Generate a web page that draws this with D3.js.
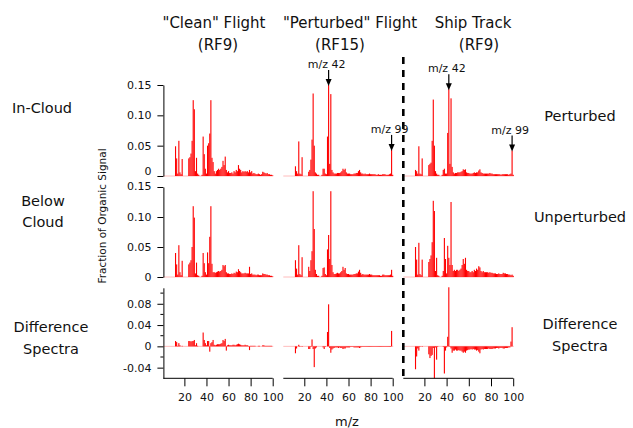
<!DOCTYPE html>
<html><head><meta charset="utf-8">
<script src="https://cdn.jsdelivr.net/npm/d3@7"></script>
<style>body{margin:0;background:#fff}svg{display:block}</style>
</head><body>
<svg id="c" width="633" height="428"></svg>
<script>
// m/z values start at 12 and run to 100
const mzStart = 12;

// "Clean" flight (RF9)
const cleanInCloud = [
 .049,.029,.004,.058,.006,.003,.028,0,0,0,
 0,0,.029,.031,.037,.058,.125,.110,.008,.030,
 .004,.002,0,0,.002,.065,.036,.012,.004,.050,
 .054,.070,.125,.030,.023,.008,.004,.008,.010,.012,
 .010,.012,.015,.025,.018,.032,.010,.006,.008,.005,
 .005,.006,.004,.008,.006,.010,.008,.018,.012,.010,
 .006,.008,.007,.008,.007,.008,.006,.010,.006,.008,
 .004,.005,.004,.003,.003,.004,.003,.002,.003,.007,
 .006,.005,.004,.005,.003,.003,.002,.002,.001];
const cleanBelowCloud = [
 .040,.021,.004,.053,.008,.003,.027,0,0,0,
 0,0,.021,.024,.028,.050,.118,.099,.006,.024,
 .003,.002,0,0,.002,.040,.023,.008,.004,.041,
 .023,.067,.118,.022,.008,.008,.007,.008,.009,.010,
 .009,.010,.012,.020,.018,.020,.008,.006,.006,.005,
 .005,.006,.005,.007,.006,.009,.008,.013,.010,.008,
 .006,.006,.006,.007,.006,.006,.006,.017,.005,.006,
 .004,.004,.004,.003,.004,.004,.003,.003,.003,.006,
 .005,.005,.004,.004,.003,.003,.002,.002,.001];
const cleanDiff = [
 .010,.008,.001,.006,.002,0,.001,0,0,0,
 0,0,.010,.010,.009,.010,.010,.012,.002,.006,
 .001,0,0,0,0,.026,.012,.006,.002,.010,
 .010,-.010,.006,.008,.012,.003,.002,.003,.004,.004,
 .004,.005,.006,.012,.010,.014,-.008,.002,.003,.002,
 .002,.002,.003,.003,.002,.003,.004,.005,.004,.003,
 .002,.002,.002,.003,.002,.002,.001,-.007,.001,.001,
 .001,.001,.001,0,0,.001,.001,0,0,.002,
 .002,.001,.001,.001,.001,.001,.001,.001,0];

// "Perturbed" flight (RF15)
const pertInCloud = [
 .016,.008,.004,.057,.004,.003,.031,0,0,0,
 0,0,.007,.010,.027,.060,.136,.050,.006,.004,
 .002,.002,0,0,.002,.012,.012,.004,.003,.065,
 .150,.020,.135,.010,.006,.004,.004,.004,.005,.005,
 .005,.006,.008,.012,.010,.012,.006,.004,.004,.004,
 .003,.003,.003,.004,.004,.005,.005,.008,.010,.006,
 .004,.004,.003,.004,.003,.003,.003,.004,.003,.003,
 .003,.003,.003,.002,.002,.003,.002,.002,.002,.003,
 .003,.003,.002,.002,.002,.003,.004,.043,.002];
const pertBelowCloud = [
 .028,.014,.004,.053,.005,.003,.033,0,0,0,
 0,0,.017,.010,.028,.043,.143,.080,.012,.005,
 .002,.002,0,0,.002,.015,.016,.005,.003,.046,
 .070,.030,.143,.020,.008,.005,.005,.006,.007,.006,
 .006,.008,.010,.017,.012,.015,.006,.005,.005,.004,
 .004,.004,.004,.005,.005,.006,.006,.009,.012,.007,
 .004,.005,.004,.004,.004,.004,.004,.005,.004,.004,
 .003,.003,.003,.003,.003,.003,.003,.002,.002,.004,
 .004,.003,.003,.003,.003,.003,.004,.012,.002];
const pertDiff = [
 -.013,-.004,0,.003,-.001,0,-.001,0,0,0,
 0,0,-.005,-.005,-.001,.013,-.005,-.039,-.004,-.002,
 0,0,0,0,0,-.002,-.005,-.001,0,.027,
 .079,-.003,-.012,-.006,-.004,-.003,-.002,-.002,-.002,-.003,
 -.002,-.003,-.003,-.005,-.004,-.004,-.002,-.002,-.002,-.002,
 -.001,-.001,-.001,-.002,-.002,-.002,-.002,-.002,-.003,-.002,
 -.001,-.001,-.001,-.001,-.001,-.001,-.001,-.001,-.001,-.001,
 -.001,-.001,-.001,-.001,-.001,-.001,-.001,-.001,-.001,-.001,
 -.001,-.001,-.001,-.001,-.001,-.001,-.001,.029,0];

// Ship track (RF9)
const shipPerturbed = [
 .010,.008,.004,.049,.004,.003,.029,0,0,0,
 0,0,.018,.020,.022,.058,.126,.050,.008,.004,
 .002,.002,0,0,.002,.010,.012,.004,.004,.071,
 .143,.020,.128,.015,.006,.004,.005,.005,.006,.006,
 .006,.007,.008,.011,.010,.011,.006,.005,.005,.004,
 .004,.004,.005,.006,.005,.006,.006,.009,.011,.006,
 .005,.004,.004,.004,.004,.004,.004,.005,.004,.004,
 .003,.003,.003,.003,.003,.003,.003,.002,.003,.003,
 .003,.003,.003,.003,.002,.003,.004,.042,.002];
const shipUnperturbed = [
 .050,.029,.004,.057,.005,.003,.029,0,0,0,
 0,0,.025,.030,.036,.058,.127,.110,.010,.032,
 .003,.002,0,0,.002,.010,.065,.030,.006,.052,
 .032,.020,.125,.020,.010,.012,.010,.012,.012,.010,
 .012,.014,.020,.030,.022,.032,.012,.010,.010,.008,
 .008,.010,.008,.012,.010,.014,.012,.018,.016,.010,
 .008,.010,.008,.008,.008,.008,.007,.008,.007,.007,
 .006,.006,.006,.005,.005,.006,.005,.005,.005,.007,
 .006,.006,.005,.005,.004,.004,.003,.004,.002];
const shipDiff = [
 -.043,-.019,-.004,-.008,-.001,0,-.001,0,0,0,
 0,0,-.015,-.022,-.018,-.016,-.003,-.060,-.002,-.025,
 -.001,0,0,0,0,-.001,-.051,-.008,-.002,.018,
 .111,-.001,-.004,-.012,-.008,-.008,-.006,-.008,-.008,-.007,
 -.008,-.008,-.010,-.012,-.010,-.012,-.008,-.007,-.006,-.006,
 -.005,-.006,-.005,-.006,-.006,-.008,-.007,-.010,-.013,-.006,
 -.005,-.006,-.005,-.005,-.005,-.005,-.004,-.005,-.005,-.005,
 -.004,-.004,-.004,-.003,-.003,-.004,-.003,-.003,-.003,-.004,
 -.004,-.003,-.003,-.003,-.002,-.002,.009,.036,0];

const colTitles = ['"Clean" Flight', '"Perturbed" Flight', 'Ship Track'];
const colSubtitles = ['(RF9)', '(RF15)', '(RF9)'];
const leftLabels = [["In-Cloud"], ["Below", "Cloud"], ["Difference", "Spectra"]];
const rightLabels = [["Perturbed"], ["Unperturbed"], ["Difference", "Spectra"]];
const xTicks = [20, 40, 60, 80, 100];
const yTicksSpec = [0, 0.05, 0.10, 0.15];
const yTicksDiff = [-0.04, 0, 0.04, 0.08];
const yMinorDiff = [-0.02, 0.02, 0.06, 0.10];
const arrowNotes = [
  {col: 1, row: 0, mz: 42, label: "m/z 42"},
  {col: 1, row: 0, mz: 99, label: "m/z 99"},
  {col: 2, row: 0, mz: 42, label: "m/z 42"},
  {col: 2, row: 0, mz: 99, label: "m/z 99"}
];

const grid = [
  [cleanInCloud, pertInCloud, shipPerturbed],
  [cleanBelowCloud, pertBelowCloud, shipUnperturbed],
  [cleanDiff, pertDiff, shipDiff]
];

// ---------- layout ----------
const svg = d3.select("#c");
const FONT = "DejaVu Sans, sans-serif";
const colRanges = [[162.3, 272.7], [282.2, 392.7], [402.2, 513.2]];
const rowDefs = [
  {domain: [0, 0.15], range: [176, 85]},
  {domain: [0, 0.15], range: [277, 187]},
  {domain: [-0.06, 0.11], range: [378.3, 287.8]}
];
const xs = colRanges.map(r => d3.scaleLinear().domain([0, 100]).range(r));
const ys = rowDefs.map(r => d3.scaleLinear().domain(r.domain).range(r.range));
const fmt = d => d === 0 ? "0" : d.toFixed(2);

// bars
grid.forEach((rowArr, ri) => {
  rowArr.forEach((vals, ci) => {
    const x = xs[ci], y = ys[ri];
    const g = svg.append("g");
    g.append("line")
      .attr("x1", x(1)).attr("x2", x(100.5))
      .attr("y1", y(0)).attr("y2", y(0))
      .attr("stroke", "#ffbcbc").attr("stroke-width", 1);
    const data = vals.map((v, i) => ({mz: mzStart + i, v})).filter(d => d.v !== 0);
    g.selectAll("rect").data(data).join("rect")
      .attr("x", d => x(d.mz - 0.5))
      .attr("width", d => x(d.mz + 0.5) - x(d.mz - 0.5))
      .attr("y", d => Math.min(y(d.v), y(0)))
      .attr("height", d => Math.abs(y(d.v) - y(0)))
      .attr("fill", "#ff0000");
  });
});

// y axes (first column only)
ys.forEach((y, ri) => {
  const isDiff = ri === 2;
  const ax = d3.axisLeft(y)
    .tickValues(isDiff ? yTicksDiff : yTicksSpec)
    .tickFormat(fmt).tickSize(6).tickSizeOuter(0).tickPadding(6);
  const g = svg.append("g").attr("transform", `translate(${xs[0](1)},0)`).call(ax);
  g.selectAll("text").attr("font-family", FONT).attr("font-size", 11).attr("fill", "#111");
  g.selectAll("line,path").attr("stroke", "#000");
  if (isDiff) {
    g.selectAll(".minor").data(yMinorDiff).join("line")
      .attr("class", "minor").attr("x1", -3).attr("x2", 0)
      .attr("y1", d => y(d)).attr("y2", d => y(d)).attr("stroke", "#000");
  }
  if (ri === 0) {
    g.selectAll(".tick").filter(d => d === 0).select("text").attr("dy", "-0.1em");
  }
  if (ri === 1) {
    g.selectAll(".tick").filter(d => d === 0.15).select("text").attr("dy", "0.2em");
  }
});

// x axes
xs.forEach((x, ci) => {
  const ax = d3.axisBottom(x).tickValues(xTicks).tickSize(8).tickSizeOuter(0).tickPadding(7);
  const g = svg.append("g").attr("transform", `translate(0,${ys[2](-0.06)})`).call(ax);
  g.select(".domain").attr("d", `M${x(1)},0H${x(100)}`);
  g.selectAll("text").attr("font-family", FONT).attr("font-size", 11).attr("fill", "#111");
  g.selectAll("line,path").attr("stroke", "#000");
});

// dashed divider
svg.append("line").attr("x1", 403.3).attr("x2", 403.3).attr("y1", 57).attr("y2", 377)
  .attr("stroke", "#000").attr("stroke-width", 2.6).attr("stroke-dasharray", "7,6");

// column titles
const colCenters = [214, 350, 473];
const subCenters = [218, 340, 479];
colTitles.forEach((t, i) => {
  svg.append("text").attr("x", colCenters[i]).attr("y", 28).attr("text-anchor", "middle")
    .attr("font-family", FONT).attr("font-size", 15).attr("fill", "#111").text(t);
  svg.append("text").attr("x", subCenters[i]).attr("y", 50).attr("text-anchor", "middle")
    .attr("font-family", FONT).attr("font-size", 15).attr("fill", "#111").text(colSubtitles[i]);
});

// row labels
const leftY = [[113], [206, 227], [332, 354]];
const rightY = [[121], [222], [329, 351]];
leftLabels.forEach((lines, ri) => lines.forEach((t, k) => {
  svg.append("text").attr("x", ri === 0 ? 42 : (ri === 1 ? 43 : 51)).attr("y", leftY[ri][k])
    .attr("text-anchor", "middle").attr("font-family", FONT).attr("font-size", 14.5)
    .attr("fill", "#111").text(t);
}));
rightLabels.forEach((lines, ri) => lines.forEach((t, k) => {
  svg.append("text").attr("x", 580).attr("y", rightY[ri][k])
    .attr("text-anchor", "middle").attr("font-family", FONT).attr("font-size", 14.5)
    .attr("fill", "#111").text(t);
}));

// axis titles
svg.append("text").attr("transform", "translate(106,216) rotate(-90)")
  .attr("text-anchor", "middle").attr("font-family", FONT).attr("font-size", 10.5)
  .attr("fill", "#111").text("Fraction of Organic Signal");
svg.append("text").attr("x", 347).attr("y", 426).attr("text-anchor", "middle")
  .attr("font-family", FONT).attr("font-size", 13).attr("fill", "#111").text("m/z");

// arrow annotations
arrowNotes.forEach(a => {
  const vals = grid[a.row][a.col];
  const x = xs[a.col], y = ys[a.row];
  const v = vals[a.mz - mzStart];
  const tipY = y(v) + 1, tx = x(a.mz);
  const tailY = tipY - 16;
  svg.append("line").attr("x1", tx).attr("x2", tx).attr("y1", tailY).attr("y2", tipY - 5)
    .attr("stroke", "#000").attr("stroke-width", 1.2);
  svg.append("path").attr("d", `M${tx - 3},${tipY - 7}L${tx + 3},${tipY - 7}L${tx},${tipY}Z`).attr("fill", "#000");
  svg.append("text").attr("x", tx - 2).attr("y", tailY - 2).attr("text-anchor", "middle")
    .attr("font-family", FONT).attr("font-size", 11).attr("fill", "#111").text(a.label);
});
</script>
</body></html>
